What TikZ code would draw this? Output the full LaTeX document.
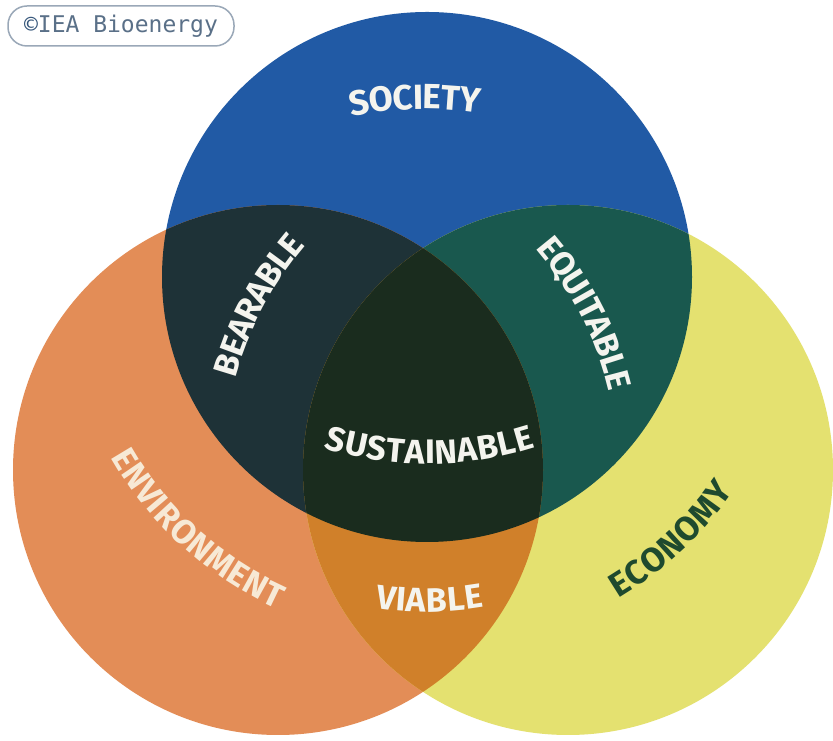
\documentclass[tikz,border=0pt]{standalone}
\usepackage{fontspec}
\usetikzlibrary{decorations.text}
\newfontfamily\labfont{Fira Sans}
\newfontfamily\badgefont{DejaVu Sans Mono}
\newcommand\labfmt{\labfont\bfseries\fontsize{34}{34}\selectfont}
\newcommand\socfmt{\labfont\bfseries\fontsize{35}{35}\selectfont}

\definecolor{socblue}{HTML}{215AA5}
\definecolor{envorange}{HTML}{E38D57}
\definecolor{ecoyellow}{HTML}{E4E170}
\definecolor{bearnavy}{HTML}{1E3237}
\definecolor{equteal}{HTML}{19584E}
\definecolor{viaamber}{HTML}{D0802A}
\definecolor{susdark}{HTML}{1A2C1E}
\definecolor{labwhite}{HTML}{F4F4EE}
\definecolor{envcream}{HTML}{F7E9D5}
\definecolor{ecogreen}{HTML}{1F4A2E}
\definecolor{badgeink}{HTML}{5A7088}
\definecolor{badgemark}{HTML}{34557A}
\definecolor{badgeline}{HTML}{9AA8B8}

\tikzset{
  arclabel/.style={decorate,
    decoration={text along path, text align=center, raise=-12pt, #1}},
  badge/.style={draw=badgeline, line width=1.5pt, rounded corners=19pt,
    minimum width=226pt, minimum height=40pt, inner sep=0pt,
    text=badgeink, font=\badgefont\fontsize{23}{23}\selectfont},
}

\newcommand\R{265}

\begin{document}
\begin{tikzpicture}[x=1pt, y=1pt]
  \useasboundingbox (0,0) rectangle (833,741);
  \fill[white] (0,0) rectangle (833,741);

  % circle centres
  \coordinate (soc) at (427,464);
  \coordinate (env) at (278,271);
  \coordinate (eco) at (568,271);
  \coordinate (susc) at (428,632);
  \coordinate (socc) at (424,270);

  % the three circles
  \fill[socblue]   (soc) circle[radius=\R];
  \fill[envorange] (env) circle[radius=\R];
  \fill[ecoyellow] (eco) circle[radius=\R];

  % pairwise overlaps
  \begin{scope}
    \clip (soc) circle[radius=\R];
    \fill[bearnavy] (env) circle[radius=\R];
  \end{scope}
  \begin{scope}
    \clip (soc) circle[radius=\R];
    \fill[equteal] (eco) circle[radius=\R];
  \end{scope}
  \begin{scope}
    \clip (env) circle[radius=\R];
    \fill[viaamber] (eco) circle[radius=\R];
  \end{scope}
  % centre, common to all three
  \begin{scope}
    \clip (soc) circle[radius=\R];
    \clip (env) circle[radius=\R];
    \fill[susdark] (eco) circle[radius=\R];
  \end{scope}

  % curved labels
  \path[arclabel={text={|\socfmt|SOCIETY}, text color=labwhite}]
    (socc) ++(121.4:374) arc[start angle=121.4, end angle=61.4, radius=374];
  \path[arclabel={text={|\labfmt|BEARABLE}, text color=labwhite}]
    (eco) ++(192:357) arc[start angle=192, end angle=112, radius=357];
  \path[arclabel={text={|\labfmt|EQUITABLE}, text color=labwhite}]
    (env) ++(67:352) arc[start angle=67, end angle=-13, radius=352];
  \path[arclabel={text={|\labfmt|SUSTAINABLE}, text color=labwhite}]
    (susc) ++(240.3:343) arc[start angle=240.3, end angle=300.3, radius=343];
  \path[arclabel={text={|\labfmt|VIABLE}, text color=labwhite}]
    (soc) ++(240.5:323) arc[start angle=240.5, end angle=300.5, radius=323];
  \path[arclabel={text={|\labfmt|ENVIRONMENT}, text color=envcream}]
    (soc) ++(192.7:352) arc[start angle=192.7, end angle=262.7, radius=352];
  \path[arclabel={text={|\labfmt|ECONOMY}, text color=ecogreen}]
    (soc) ++(-77:362) arc[start angle=-77, end angle=-17, radius=362];

  % copyright badge
  \node[badge] (badge) at (121,715) {\textcolor{badgemark}{©}IEA Bioenergy};
\end{tikzpicture}
\end{document}
